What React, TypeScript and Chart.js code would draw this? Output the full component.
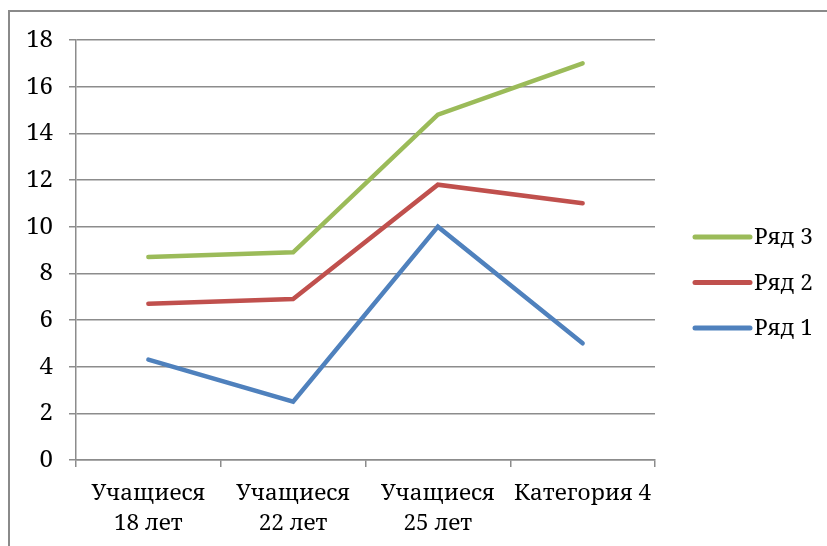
import React, { useEffect, useRef } from "react";
import { Chart, registerables } from "chart.js";

Chart.register(...registerables);

const categories: string[][] = [
  ["Учащиеся", "18 лет"],
  ["Учащиеся", "22 лет"],
  ["Учащиеся", "25 лет"],
  ["Категория 4"],
];
const series1 = [4.3, 2.5, 10, 5];
const series2 = [6.7, 6.9, 11.8, 11];
const series3 = [8.7, 8.9, 14.8, 17];
const seriesNames = ["Ряд 1", "Ряд 2", "Ряд 3"];
const yMin = 0;
const yMax = 18;
const yStep = 2;

const FONT = '"Noto Serif", "DejaVu Serif", serif';
const GRID = "#8c8c8c";
const FS = 22.5;
const FS_Y = 24;

const legendPlugin = {
  id: "customLegend",
  afterDraw(chart: any) {
    const ctx = chart.ctx;
    const ds = chart.data.datasets;
    const x0 = 695;
    const x1 = 750;
    const yTop = 237;
    const gap = 45.5;
    ctx.save();
    ctx.font = `${FS}px ${FONT}`;
    ctx.textBaseline = "middle";
    ctx.textAlign = "left";
    for (let i = ds.length - 1, k = 0; i >= 0; i--, k++) {
      const y = yTop + k * gap;
      ctx.strokeStyle = ds[i].borderColor;
      ctx.lineWidth = 5;
      ctx.lineCap = "round";
      ctx.beginPath();
      ctx.moveTo(x0, y);
      ctx.lineTo(x1, y);
      ctx.stroke();
      ctx.fillStyle = "#000";
      ctx.fillText(ds[i].label, x1 + 4, y + 1);
    }
    ctx.restore();
  },
};

export default function App() {
  const ref = useRef<HTMLCanvasElement>(null);
  useEffect(() => {
    if (!ref.current) return;
    const chart = new Chart(ref.current, {
      type: "line",
      data: {
        labels: categories,
        datasets: [
          { label: seriesNames[0], data: series1, borderColor: "#4F81BD", backgroundColor: "#4F81BD" },
          { label: seriesNames[1], data: series2, borderColor: "#C0504D", backgroundColor: "#C0504D" },
          { label: seriesNames[2], data: series3, borderColor: "#9BBB59", backgroundColor: "#9BBB59" },
        ].map((d) => ({
          ...d,
          borderWidth: 4.5,
          pointRadius: 0,
          borderCapStyle: "round" as const,
          tension: 0,
        })),
      },
      options: {
        animation: false,
        responsive: false,
        devicePixelRatio: 1,
        layout: { padding: { top: 40, left: 0, right: 172, bottom: 0 } },
        plugins: { legend: { display: false }, tooltip: { enabled: false } },
        scales: {
          x: {
            offset: true,
            grid: { offset: true, drawOnChartArea: false, tickLength: 7, color: GRID, lineWidth: 1.5 },
            border: { display: true, color: GRID, width: 1.5 },
            ticks: {
              color: "#000",
              font: { family: FONT, size: FS, lineHeight: 1.33 },
              padding: 12,
              maxRotation: 0,
              autoSkip: false,
            },
            afterFit(scale: any) {
              scale.height = 546 - 460;
            },
          },
          y: {
            min: yMin,
            max: yMax,
            ticks: { stepSize: yStep, color: "#000", font: { family: FONT, size: FS_Y }, padding: 16 },
            grid: { color: GRID, lineWidth: 1.5, tickLength: 7 },
            border: { display: true, color: GRID, width: 1.5 },
            afterFit(scale: any) {
              scale.width = 76;
            },
          },
        },
      },
      plugins: [legendPlugin],
    });
    return () => chart.destroy();
  }, []);

  return (
    <div style={{ position: "fixed", left: 0, top: 0, width: 827, height: 546, background: "#fff", overflow: "hidden" }}>
      <div style={{ position: "absolute", left: 8, top: 10, width: 900, height: 600, border: "2px solid #8a8a8a", boxSizing: "border-box" }} />
      <canvas ref={ref} width={827} height={546} style={{ position: "absolute", left: 0, top: 0 }} />
    </div>
  );
}
